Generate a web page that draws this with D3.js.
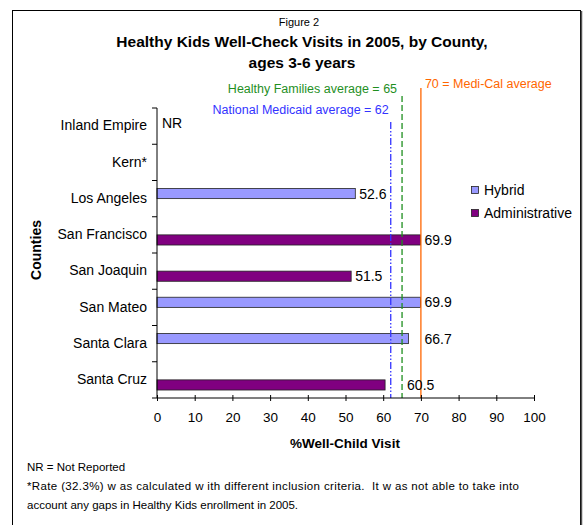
<!DOCTYPE html>
<html>
<head>
<meta charset="utf-8">
<script src="https://cdn.jsdelivr.net/npm/d3@7/dist/d3.min.js"></script>
<style>
  body { margin: 0; background: #fff; }
  text { font-family: "Liberation Sans", Arial, sans-serif; }
</style>
</head>
<body>
<svg id="chart" width="584" height="525"></svg>
<script>
// data
const counties = ["Inland Empire", "Kern*", "Los Angeles", "San Francisco",
                  "San Joaquin", "San Mateo", "Santa Clara", "Santa Cruz"];
const hybrid = [null, null, 52.6, null, null, 69.9, 66.7, null];
const administrative = [null, null, null, 69.9, 51.5, null, null, 60.5];
const xTicks = [0, 10, 20, 30, 40, 50, 60, 70, 80, 90, 100];
const averages = [
  {name: "National Medicaid average = 62", value: 62, color: "#3333ff", dash: "7,2,1.5,2,1.5,2", top: 122},
  {name: "Healthy Families average = 65", value: 65, color: "#1f8f1f", dash: "6,3", top: 96},
  {name: "70 = Medi-Cal average", value: 70, color: "#ff6600", dash: null, top: 88}
];
const seriesNames = ["Hybrid", "Administrative"];
const seriesColors = ["#9999ff", "#800080"];

const svg = d3.select("#chart");

// frame
svg.append("rect").attr("x", 12.5).attr("y", 10.5).attr("width", 568).attr("height", 530)
  .attr("fill", "none").attr("stroke", "#000").attr("stroke-width", 1);
svg.append("line").attr("x1", 581.5).attr("x2", 581.5).attr("y1", 11).attr("y2", 525)
  .attr("stroke", "#555").attr("stroke-width", 1.5);

// titles
svg.append("text").attr("x", 299).attr("y", 26).attr("text-anchor", "middle")
  .attr("font-size", 11).text("Figure 2");
svg.append("text").attr("x", 302).attr("y", 47).attr("text-anchor", "middle")
  .attr("font-size", 15.5).attr("font-weight", "bold")
  .text("Healthy Kids Well-Check Visits in 2005, by County,");
svg.append("text").attr("x", 302).attr("y", 68).attr("text-anchor", "middle")
  .attr("font-size", 15.5).attr("font-weight", "bold").text("ages 3-6 years");

const plotL = 157, plotR = 534, plotT = 108, plotB = 398;

const x = d3.scaleLinear().domain([0, 100]).range([plotL, plotR]);
const y = d3.scaleBand().domain(counties).range([plotT, plotB]).paddingInner(0.44).paddingOuter(0.22);
const ySub = d3.scaleBand().domain(seriesNames).range([0, y.bandwidth()]);

const g = svg.append("g");

// bars
const series = [hybrid, administrative];
series.forEach((vals, si) => {
  g.selectAll(".bar" + si)
    .data(counties.map((c, i) => ({c, v: vals[i]})).filter(d => d.v != null))
    .join("rect")
    .attr("x", x(0))
    .attr("y", d => y(d.c) + ySub(seriesNames[si]))
    .attr("width", d => x(d.v) - x(0))
    .attr("height", ySub.bandwidth())
    .attr("fill", seriesColors[si])
    .attr("stroke", "#222").attr("stroke-width", 0.8);
});

// reference lines
averages.forEach(a => {
  g.append("line").attr("x1", x(a.value)).attr("x2", x(a.value))
    .attr("y1", a.top).attr("y2", plotB)
    .attr("stroke", a.color).attr("stroke-width", 1.3)
    .attr("stroke-dasharray", a.dash);
});
svg.append("text").attr("x", x(62) - 2).attr("y", 114).attr("text-anchor", "end")
  .attr("font-size", 12.5).attr("fill", averages[0].color).text(averages[0].name);
svg.append("text").attr("x", x(65) - 5).attr("y", 93).attr("text-anchor", "end")
  .attr("font-size", 12.5).attr("fill", averages[1].color).text(averages[1].name);
svg.append("text").attr("x", x(70) + 4).attr("y", 88).attr("text-anchor", "start")
  .attr("font-size", 12.5).attr("fill", averages[2].color).text(averages[2].name);

// value labels
const labelNudge = {"Santa Clara": 12, "Santa Cruz": 18};
series.forEach((vals, si) => {
  counties.forEach((c, i) => {
    if (vals[i] == null) return;
    svg.append("text")
      .attr("x", x(vals[i]) + 4 + (labelNudge[c] || 0))
      .attr("y", y(c) + ySub(seriesNames[si]) + ySub.bandwidth() / 2 + 5)
      .attr("font-size", 14).text(vals[i]);
  });
});
svg.append("text").attr("x", x(0) + 5).attr("y", y("Inland Empire") + 12)
  .attr("font-size", 14).text("NR");

// axes
const yAxis = d3.axisLeft(y).tickSize(0).tickPadding(10);
const yg = svg.append("g").attr("transform", `translate(${plotL},0)`).call(yAxis);
yg.selectAll("text").attr("font-size", 14).attr("font-family", "Liberation Sans, Arial, sans-serif")
  .attr("dy", "0.3em");
// category separator ticks
const sepY = counties.map(c => y(c) - y.step() * y.paddingInner() / 2).concat([plotB]);
sepY.forEach(v => {
  svg.append("line").attr("x1", plotL - 5).attr("x2", plotL)
    .attr("y1", v).attr("y2", v).attr("stroke", "#000");
});
yg.select(".domain").attr("d", `M0,${plotT}V${plotB}`).attr("stroke", "#000");

const xAxis = d3.axisBottom(x).tickValues(xTicks).tickSize(3).tickPadding(11);
const xg = svg.append("g").attr("transform", `translate(0,${plotB})`).call(xAxis);
xg.select(".domain").attr("d", `M${plotL},0H${plotR}`).attr("stroke", "#000");
xg.selectAll(".tick line").attr("y1", -3).attr("stroke", "#000");
xg.selectAll("text").attr("font-size", 13.5).attr("font-family", "Liberation Sans, Arial, sans-serif");

svg.append("text").attr("x", 345).attr("y", 448).attr("text-anchor", "middle")
  .attr("font-size", 13.5).attr("font-weight", "bold").text("%Well-Child Visit");
svg.append("text").attr("transform", "translate(41,250) rotate(-90)")
  .attr("text-anchor", "middle").attr("font-size", 14).attr("font-weight", "bold").text("Counties");

// legend
seriesNames.forEach((n, i) => {
  const ly = 190 + i * 23;
  svg.append("rect").attr("x", 471.5).attr("y", ly - 3.5).attr("width", 7).attr("height", 7)
    .attr("fill", seriesColors[i]).attr("stroke", "#222").attr("stroke-width", 0.8);
  svg.append("text").attr("x", 484).attr("y", ly + 5).attr("font-size", 14).text(n);
});

// footnotes
const notes = ["NR = Not Reported",
  "*Rate (32.3%) w as calculated w ith different inclusion criteria.  It w as not able to take into",
  "account any gaps in Healthy Kids enrollment in 2005."];
notes.forEach((t, i) => {
  const tx = svg.append("text").attr("x", 27).attr("y", 471 + i * 19)
    .attr("font-size", 11.5).attr("xml:space", "preserve").style("white-space", "pre").text(t);
  if (i === 1) tx.attr("textLength", 492).attr("lengthAdjust", "spacing");
});
</script>
</body>
</html>
